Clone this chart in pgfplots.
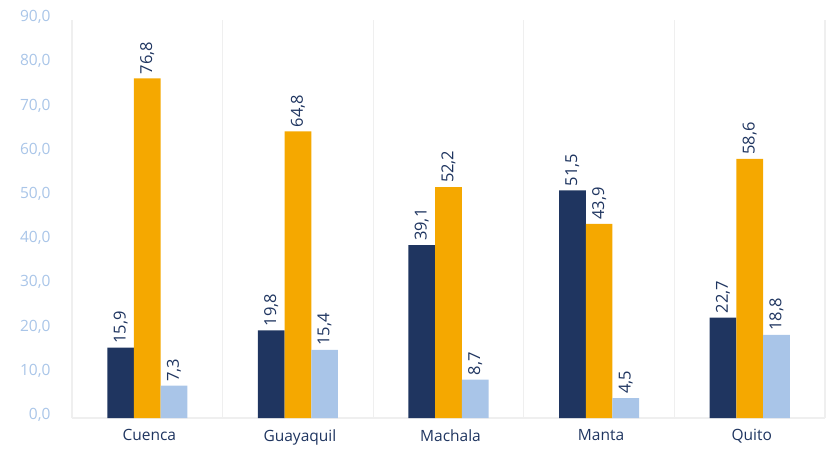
\documentclass[border=0pt]{standalone}
\usepackage{pgfplots}
\pgfplotsset{compat=1.18}
\usepackage{fontspec}
\setmainfont{Open Sans}
\definecolor{navy}{HTML}{1F3560}
\definecolor{gold}{HTML}{F5A800}
\definecolor{sky}{HTML}{A9C5E8}
\definecolor{ytick}{HTML}{A9C5E8}
\definecolor{sep}{HTML}{EFEFEF}
\begin{document}
\begin{tikzpicture}
\useasboundingbox (0,0) rectangle (832pt,451pt);
\begin{axis}[
  at={(72pt,33pt)}, anchor=south west,
  scale only axis, width=753pt, height=398pt,
  ybar, bar width=26.7pt,
  xmin=-0.5, xmax=4.5, ymin=0, ymax=90,
  xtick={0,1,2,3,4},
  xticklabels={Cuenca,Guayaquil,Machala,Manta,Quito},
  minor xtick={-0.5,0.5,1.5,2.5,3.5,4.5},
  minor x grid style={draw=sep, line width=1.2pt},
  xminorgrids=true,
  major tick length=0pt, minor tick length=0pt,
  ytick={0,10,...,90},
  axis x line*=bottom, axis y line*=left,
  axis line style={draw=sep, line width=1.2pt, -},
  x axis line style={draw=sep},
  tick style={draw=none},
  xticklabel style={font=\fontsize{15.5}{17}\selectfont, text=navy, yshift=-8pt, xshift=2pt},
  yticklabel style={font=\fontsize{15.5}{17}\selectfont, text=ytick, xshift=-18pt, yshift=3pt,
    /pgf/number format/.cd, fixed, fixed zerofill, precision=1, use comma, assume math mode=true},
  nodes near coords={\pgfmathprintnumber[fixed,fixed zerofill,precision=1,use comma,assume math mode=true]{\pgfplotspointmeta}},
  every node near coord/.append style={rotate=90, anchor=west, font=\fontsize{16.5}{18}\selectfont, text=navy, inner sep=4pt},
  clip=false,
]
\addplot[fill=navy, draw=none, bar shift=-26.7pt] coordinates {(0,15.9) (1,19.8) (2,39.1) (3,51.5) (4,22.7)};
\addplot[fill=gold, draw=none, bar shift=0pt] coordinates {(0,76.8) (1,64.8) (2,52.2) (3,43.9) (4,58.6)};
\addplot[fill=sky, draw=none, bar shift=26.7pt] coordinates {(0,7.3) (1,15.4) (2,8.7) (3,4.5) (4,18.8)};
\end{axis}
\end{tikzpicture}
\end{document}
